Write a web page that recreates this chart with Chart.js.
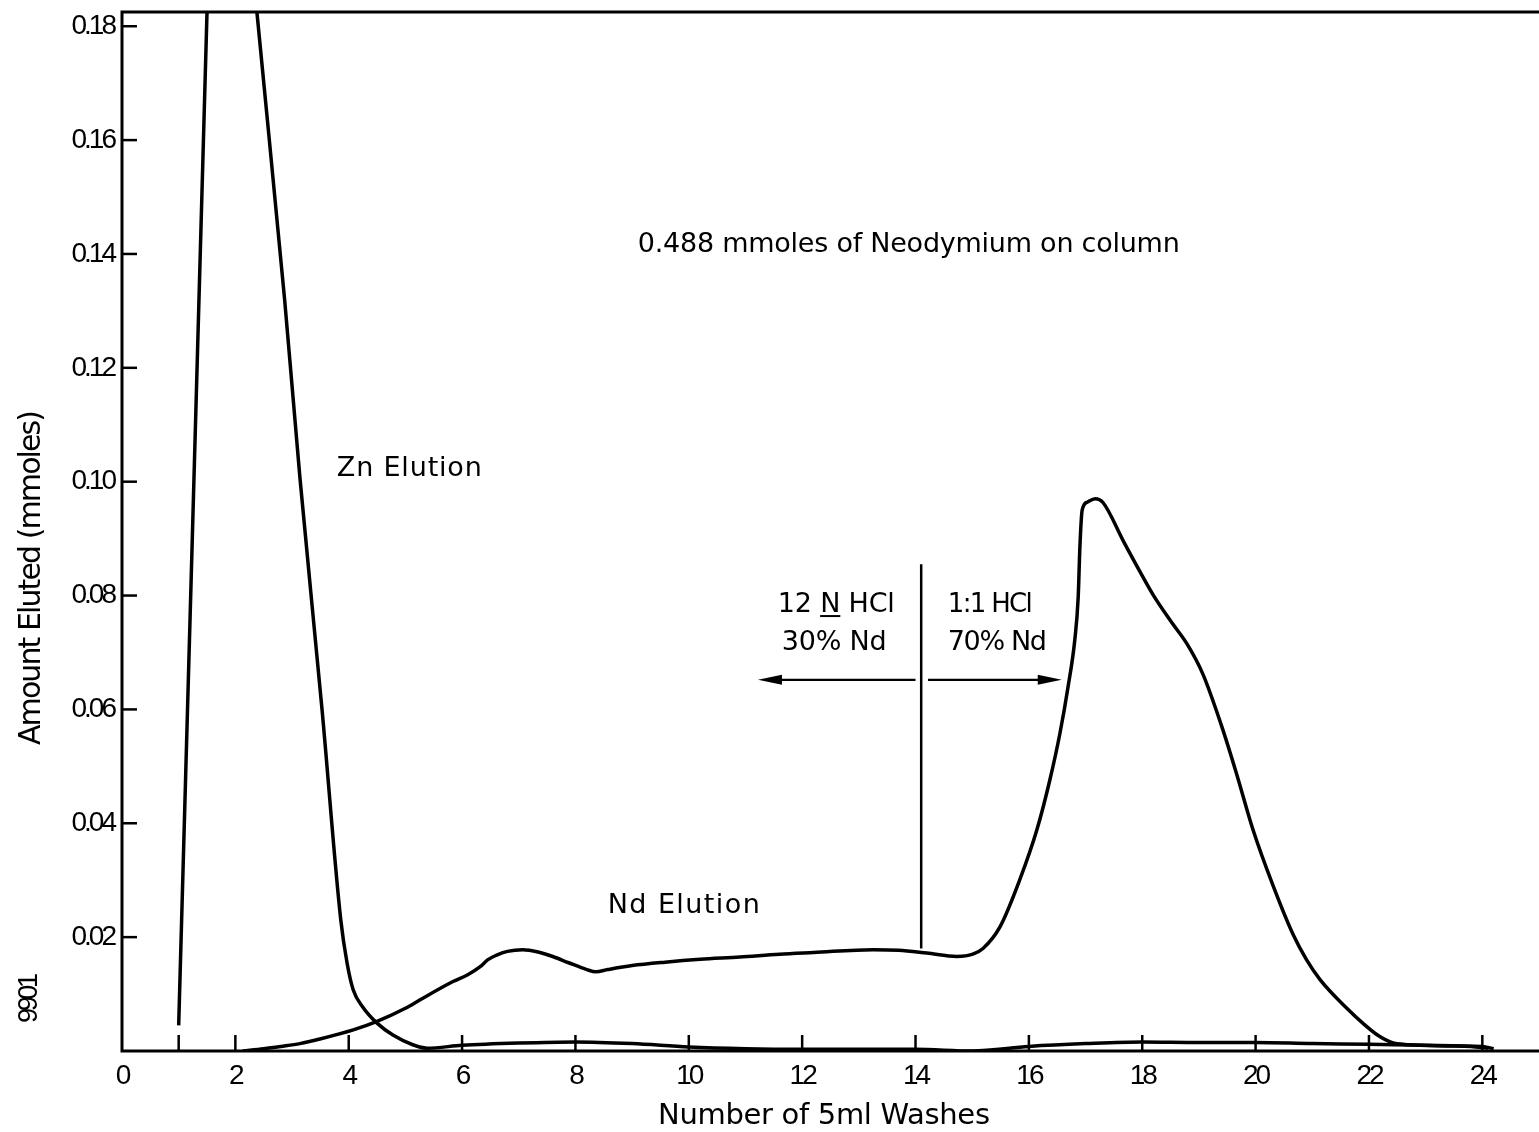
<!DOCTYPE html>
<html>
<head>
<meta charset="utf-8">
<script src="https://cdn.jsdelivr.net/npm/chart.js@4"></script>
<style>
html,body{margin:0;padding:0;background:#fff;}
#wrap{width:1539px;height:1132px;position:relative;}
canvas{display:block;}
</style>
</head>
<body>
<div id="wrap"><canvas id="c" width="1539" height="1132"></canvas></div>
<script>
// ---- data ----
const xTickValues = [0, 2, 4, 6, 8, 10, 12, 14, 16, 18, 20, 22, 24];
const xExtraTickMarks = [1];
const yTickValues = [0.02, 0.04, 0.06, 0.08, 0.10, 0.12, 0.14, 0.16, 0.18];
const xRange = [0, 25];
const yRange = [0, 0.1825];

// Zn elution (number of washes, mmoles)
const znWash   = [1.0, 1.25, 1.5, 1.6, 1.70, 1.85, 2.1, 2.38, 2.87, 3.14, 3.53, 3.86, 3.97, 4.08, 4.25, 4.5, 4.78, 5.13, 5.38, 6.0, 7.0, 8.0, 9.0, 10.0, 11.0, 12.0, 13.0, 14.0, 15.0, 16.0, 17.0, 18.0, 19.0, 20.0, 21.0, 22.0, 23.0, 24.0, 24.2];
const znAmount = [0.0045, 0.0935, 0.1825, 0.218, 0.255, 0.239, 0.2125, 0.1825, 0.1319, 0.1006, 0.0599, 0.0230, 0.0155, 0.0107, 0.0077, 0.0049, 0.0028, 0.0011, 0.0005, 0.0010, 0.0014, 0.0016, 0.0013, 0.0007, 0.0004, 0.0003, 0.0003, 0.0003, 0.0000, 0.0008, 0.0013, 0.0016, 0.0015, 0.0015, 0.0013, 0.0012, 0.0010, 0.0008, 0.0004];

// Nd elution (number of washes, mmoles)
const ndWash   = [2.13, 2.5, 2.8, 3.14, 3.49, 4.08, 4.5, 5.0, 5.26, 5.84, 6.1, 6.32, 6.45, 6.6, 6.8, 7.07, 7.34, 7.6, 7.88, 8.2, 8.36, 8.57, 9.0, 9.58, 10.2, 10.9, 11.6, 12.2, 13.25, 13.7, 14.2, 14.73, 15.01, 15.19, 15.49, 15.84, 16.14, 16.37, 16.55, 16.69, 16.81, 16.87, 16.90, 16.94, 17.03, 17.17, 17.31, 17.66, 17.96, 18.2, 18.54, 18.79, 19.07, 19.42, 19.67, 19.95, 20.31, 20.66, 20.9, 21.14, 21.61, 21.9, 22.15, 22.4, 22.7, 23.4, 23.8, 24.1];
const ndAmount = [0.0, 0.0004, 0.0008, 0.0013, 0.0021, 0.0037, 0.0052, 0.0075, 0.0090, 0.0122, 0.0134, 0.0148, 0.0160, 0.0168, 0.0175, 0.0178, 0.0174, 0.0166, 0.0155, 0.0143, 0.0139, 0.0143, 0.0150, 0.0156, 0.0161, 0.0165, 0.0170, 0.0173, 0.0178, 0.0177, 0.0172, 0.0166, 0.0170, 0.0180, 0.0218, 0.0301, 0.0388, 0.0476, 0.0559, 0.0639, 0.0722, 0.0797, 0.0885, 0.0950, 0.0964, 0.0970, 0.0963, 0.0897, 0.0842, 0.0800, 0.0750, 0.0715, 0.0662, 0.0565, 0.0485, 0.0390, 0.0290, 0.0205, 0.0160, 0.0125, 0.0075, 0.0048, 0.0028, 0.0015, 0.0011, 0.0009, 0.0008, 0.0005];

const xTitle = 'Number of 5ml Washes';
const yTitle = 'Amount Eluted (mmoles)';
const noteText = '0.488 mmoles of Neodymium on column';
const znLabel = 'Zn Elution';
const ndLabel = 'Nd Elution';
const leftAcid = ['12 ', 'N', ' HCl'];
const leftShare = '30% Nd';
const rightAcid = '1:1 HCl';
const rightShare = '70% Nd';
const pageMark = '9901';
// acid change: washes where the eluent switched, bracket of the marker
const switchWash = 14.1;
const switchSpan = [0.018, 0.0855];

// ---- drawing ----
const TEXT_FONT = '"DejaVu Sans", "Liberation Sans", sans-serif';
const NUM_FONT = '"Liberation Sans", "DejaVu Sans", sans-serif';

function fitText(ctx, text, left, baseline, width, font) {
  ctx.font = font;
  ctx.letterSpacing = '0px';
  const w0 = ctx.measureText(text).width;
  const ls = text.length > 1 ? (width - w0) / (text.length - 1) : 0;
  ctx.letterSpacing = ls + 'px';
  ctx.textAlign = 'left';
  ctx.textBaseline = 'alphabetic';
  ctx.fillText(text, left, baseline);
  return ls;
}

function arrow(ctx, x0, x1, yy) {
  const dir = Math.sign(x1 - x0);
  ctx.beginPath();
  ctx.moveTo(x0, yy);
  ctx.lineTo(x1 - dir * 18, yy);
  ctx.stroke();
  ctx.beginPath();
  ctx.moveTo(x1, yy);
  ctx.lineTo(x1 - dir * 24, yy - 5);
  ctx.lineTo(x1 - dir * 24, yy + 5);
  ctx.closePath();
  ctx.fill();
}

const paperPlugin = {
  id: 'paper',
  beforeDraw(chart) {
    chart.ctx.letterSpacing = '-3px';
  },
  afterDraw(chart) {
    const {ctx, chartArea: a, scales: {x, y}} = chart;
    ctx.save();
    ctx.letterSpacing = '0px';
    ctx.strokeStyle = '#000';
    ctx.fillStyle = '#000';
    // frame: top, left, bottom
    ctx.lineWidth = 3;
    ctx.beginPath();
    ctx.moveTo(a.right, a.top);
    ctx.lineTo(a.left, a.top);
    ctx.lineTo(a.left, a.bottom);
    ctx.lineTo(a.right, a.bottom);
    ctx.stroke();
    // inward ticks
    ctx.lineWidth = 2.5;
    yTickValues.forEach(v => {
      const py = y.getPixelForValue(v);
      ctx.beginPath(); ctx.moveTo(a.left, py); ctx.lineTo(a.left + 15, py); ctx.stroke();
    });
    xTickValues.concat(xExtraTickMarks).forEach(v => {
      if (v === 0) return;
      const px = x.getPixelForValue(v);
      ctx.beginPath(); ctx.moveTo(px, a.bottom); ctx.lineTo(px, a.bottom - 16); ctx.stroke();
    });
    // acid switch marker and arrows
    const mx = x.getPixelForValue(switchWash);
    ctx.lineWidth = 2.5;
    ctx.beginPath();
    ctx.moveTo(mx, y.getPixelForValue(switchSpan[1]));
    ctx.lineTo(mx, y.getPixelForValue(switchSpan[0]));
    ctx.stroke();
    const ay = y.getPixelForValue(0.0652);
    ctx.lineWidth = 2.2;
    arrow(ctx, x.getPixelForValue(14.0), x.getPixelForValue(11.22), ay);
    arrow(ctx, x.getPixelForValue(14.22), x.getPixelForValue(16.58), ay);

    // annotations
    const F27 = '27px ' + TEXT_FONT;
    fitText(ctx, noteText, x.getPixelForValue(9.10), y.getPixelForValue(0.1403), 542, F27);
    fitText(ctx, znLabel, x.getPixelForValue(3.79), y.getPixelForValue(0.1010), 145, F27);
    fitText(ctx, ndLabel, x.getPixelForValue(8.57), y.getPixelForValue(0.0242), 152, F27);

    // "12 N HCl" with underlined N
    const lx = x.getPixelForValue(11.57), lb = y.getPixelForValue(0.0771);
    const full = leftAcid.join('');
    const ls = fitText(ctx, full, lx, lb, 117, F27);
    const nOff = ctx.measureText(leftAcid[0]).width;
    const nW = ctx.measureText(leftAcid[1]).width - ls;
    ctx.lineWidth = 2;
    ctx.beginPath(); ctx.moveTo(lx + nOff, lb + 4); ctx.lineTo(lx + nOff + nW, lb + 4); ctx.stroke();
    fitText(ctx, leftShare, x.getPixelForValue(11.64), y.getPixelForValue(0.0704), 105, F27);
    fitText(ctx, rightAcid, x.getPixelForValue(14.57), y.getPixelForValue(0.0771), 85, '26px ' + TEXT_FONT);
    fitText(ctx, rightShare, x.getPixelForValue(14.57), y.getPixelForValue(0.0704), 99, F27);

    // axis titles
    fitText(ctx, xTitle, 658, 1124, 332, '29px ' + TEXT_FONT);
    ctx.save();
    ctx.translate(40, 745);
    ctx.rotate(-Math.PI / 2);
    fitText(ctx, yTitle, 0, 0, 335, '30px ' + TEXT_FONT);
    ctx.restore();
    ctx.save();
    ctx.translate(37, 1023);
    ctx.rotate(-Math.PI / 2);
    fitText(ctx, pageMark, 0, 0, 50, '27px ' + NUM_FONT);
    ctx.restore();

    ctx.restore();
    ctx.letterSpacing = '0px';
  }
};

const toPoints = (xs, ys) => xs.map((v, i) => ({x: v, y: ys[i]}));

const lineStyle = {
  showLine: true,
  borderColor: '#000',
  backgroundColor: '#000',
  borderWidth: 3.5,
  pointRadius: 0,
  pointHoverRadius: 0,
  fill: false,
  cubicInterpolationMode: 'monotone'
};

new Chart(document.getElementById('c').getContext('2d'), {
  type: 'scatter',
  data: {
    datasets: [
      Object.assign({label: znLabel, data: toPoints(znWash, znAmount)}, lineStyle),
      Object.assign({label: ndLabel, data: toPoints(ndWash, ndAmount)}, lineStyle)
    ]
  },
  options: {
    responsive: false,
    animation: false,
    devicePixelRatio: 1,
    layout: {padding: {top: 12, left: 0, right: 0, bottom: 0}},
    plugins: {legend: {display: false}, tooltip: {enabled: false}, title: {display: false}},
    events: [],
    scales: {
      x: {
        type: 'linear', position: 'bottom', min: xRange[0], max: xRange[1],
        afterBuildTicks: s => { s.ticks = xTickValues.map(v => ({value: v})); },
        afterFit: s => { s.height = 81; s.paddingLeft = 0; s.paddingRight = 0; },
        grid: {display: false, drawTicks: false},
        border: {display: false},
        ticks: {autoSkip: false, maxRotation: 0, minRotation: 0, padding: 8, color: '#000',
                font: {family: NUM_FONT, size: 28}, callback: v => String(v)}
      },
      y: {
        type: 'linear', position: 'left', min: yRange[0], max: yRange[1],
        afterBuildTicks: s => { s.ticks = yTickValues.map(v => ({value: v})); },
        afterFit: s => { s.width = 122; s.paddingTop = 0; s.paddingBottom = 0; },
        grid: {display: false, drawTicks: false},
        border: {display: false},
        ticks: {autoSkip: false, padding: 8, color: '#000',
                font: {family: NUM_FONT, size: 28}, callback: v => v.toFixed(2)}
      }
    }
  },
  plugins: [paperPlugin]
});
</script>
</body>
</html>
